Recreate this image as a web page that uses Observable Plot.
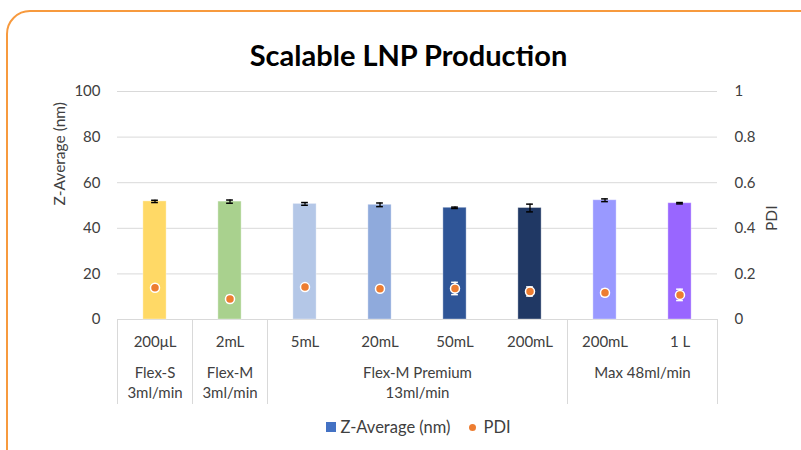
<!DOCTYPE html>
<html>
<head>
<meta charset="utf-8">
<script src="https://cdn.jsdelivr.net/npm/d3@7"></script>
<script src="https://cdn.jsdelivr.net/npm/@observablehq/plot@0.6"></script>
<style>
  html, body { margin: 0; padding: 0; background: #fff; }
  #wrap { position: relative; width: 801px; height: 450px; overflow: hidden; font-family: Lato, "Open Sans", sans-serif; }
  #border { position: absolute; left: 6px; top: 10px; width: 900px; height: 600px; border: 2.5px solid #F79A3E; border-radius: 24px; box-sizing: border-box; }
  #title { position: absolute; left: 8px; top: 35px; width: 801px; text-align: center; font-size: 29px; font-weight: bold; color: #000; line-height: 40px; }
  #chart { position: absolute; left: 0; top: 0; }
  #legend { position: absolute; top: 417px; left: 0; width: 801px; display: flex; justify-content: center; align-items: center; font-size: 16.5px; color: #404040; padding-left: 36px; box-sizing: border-box; }
  .sw { display: inline-block; width: 10px; height: 10px; background: #4472C4; margin-right: 4px; }
  .dt { display: inline-block; width: 7px; height: 7px; border-radius: 50%; background: #ED7D31; margin-left: 18px; margin-right: 8px; }
</style>
</head>
<body>
<div id="wrap">
  <div id="border"></div>
  <div id="chart"></div>
  <div id="title">Scalable LNP Production</div>
  <div id="legend"><span class="sw"></span><span>Z-Average (nm)</span><span class="dt"></span><span>PDI</span></div>
</div>
<script>
const volumes = ["200μL", "2mL", "5mL", "20mL", "50mL", "200mL", "200mL", "1 L"];
const zAverage = [51.8, 51.7, 50.7, 50.3, 49.0, 48.9, 52.3, 51.0];
const zError = [0.5, 0.7, 0.6, 0.8, 0.3, 1.7, 0.6, 0.3];
const pdiValues = [0.139, 0.090, 0.142, 0.135, 0.136, 0.123, 0.117, 0.108];
const pdiError = [0.010, 0.015, 0.010, 0.010, 0.027, 0.020, 0.015, 0.025];
const barColors = ["#FFD966", "#A9D18E", "#B4C7E7", "#8FAADC", "#2F5597", "#203864", "#9999FF", "#9966FF"];
const groupLine1 = ["Flex-S", "Flex-M", "Flex-M Premium", "Max 48ml/min"];
const groupLine2 = ["3ml/min", "3ml/min", "13ml/min", ""];
const groupStart = [0, 1, 2, 6];
const groupEnd = [1, 2, 6, 8];
const yTicks = [0, 20, 40, 60, 80, 100];
const pdiTicks = [0, 0.2, 0.4, 0.6, 0.8, 1];

const pdiScale = 100; // PDI 0..1 mapped onto the 0..100 left axis
const halfBar = 0.155;
const cap = 0.045;

const data = volumes.map((v, i) => ({
  vol: v, pos: i + 0.5, z: zAverage[i], ze: zError[i],
  p: pdiValues[i] * pdiScale, pe: pdiError[i] * pdiScale, color: barColors[i]
}));
const groups = groupLine1.map((l, i) => ({line1: l, line2: groupLine2[i], mid: (groupStart[i] + groupEnd[i]) / 2}));
const boundaries = [0, ...groupEnd];

const chart = Plot.plot({
  width: 801,
  height: 450,
  marginLeft: 117,
  marginRight: 84,
  marginTop: 91,
  marginBottom: 131,
  style: {fontFamily: "Lato, 'Open Sans', sans-serif", fontSize: "15px", color: "#404040", background: "transparent"},
  x: {domain: [0, volumes.length], axis: null},
  y: {domain: [0, 100], axis: null},
  marks: [
    Plot.ruleY(yTicks.filter(d => d > 0), {stroke: "#d9d9d9", strokeWidth: 1}),
    Plot.ruleY([0], {stroke: "#d9d9d9", strokeWidth: 1}),
    Plot.ruleX(boundaries, {x: d => d, y1: 0, y2: 0, insetBottom: -85, stroke: "#d9d9d9", strokeWidth: 1}),
    Plot.axisY({anchor: "left", ticks: yTicks, tickSize: 0, tickPadding: 17, label: null, fill: "#404040"}),
    Plot.axisY({anchor: "right", ticks: pdiTicks.map(d => d * pdiScale), tickFormat: d => d3.format("~g")(d / pdiScale), tickSize: 0, tickPadding: 17, label: null, fill: "#404040"}),
    Plot.rectY(data, {x1: d => d.pos - halfBar, x2: d => d.pos + halfBar, y1: 0, y2: "z", fill: "color", stroke: "white", strokeOpacity: 0.35, strokeWidth: 1}),
    Plot.ruleX(data, {x: "pos", y1: d => d.z - d.ze, y2: d => d.z + d.ze, stroke: "black", strokeWidth: 1.3}),
    Plot.ruleY(data, {x1: d => d.pos - cap, x2: d => d.pos + cap, y: d => d.z + d.ze, stroke: "black", strokeWidth: 1.5}),
    Plot.ruleY(data, {x1: d => d.pos - cap, x2: d => d.pos + cap, y: d => d.z - d.ze, stroke: "black", strokeWidth: 1.5}),
    Plot.ruleX(data, {x: "pos", y1: d => d.p - d.pe, y2: d => d.p + d.pe, stroke: "white", strokeWidth: 1.5}),
    Plot.ruleY(data, {x1: d => d.pos - cap, x2: d => d.pos + cap, y: d => d.p + d.pe, stroke: "white", strokeWidth: 1.5}),
    Plot.ruleY(data, {x1: d => d.pos - cap, x2: d => d.pos + cap, y: d => d.p - d.pe, stroke: "white", strokeWidth: 1.5}),
    Plot.dot(data, {x: "pos", y: "p", r: 4.5, fill: "#ED7D31", stroke: "white", strokeWidth: 1.5}),
    Plot.text(data, {x: "pos", y: 0, text: "vol", dy: 23, fill: "#404040"}),
    Plot.text(groups, {x: "mid", y: 0, text: "line1", dy: 54, fill: "#404040"}),
    Plot.text(groups, {x: "mid", y: 0, text: "line2", dy: 74, fill: "#404040"}),
    Plot.text(["Z-Average (nm)"], {frameAnchor: "left", dx: -57, rotate: -90, fill: "#404040", fontSize: 15.5}),
    Plot.text(["PDI"], {frameAnchor: "right", dx: 55, rotate: -90, fill: "#404040", fontSize: 15.5})
  ]
});
document.getElementById("chart").appendChild(chart);
</script>
</body>
</html>
